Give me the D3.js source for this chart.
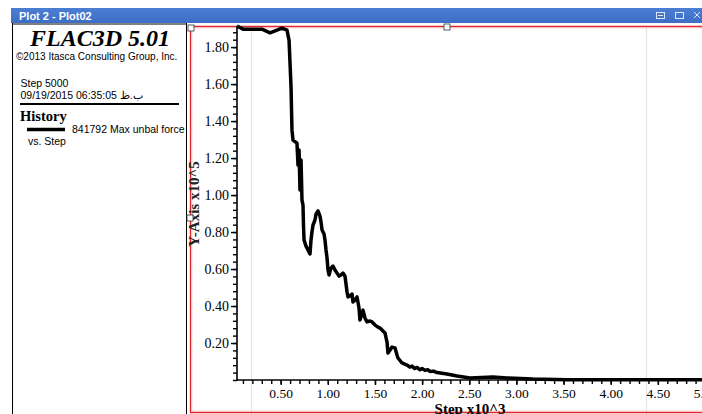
<!DOCTYPE html>
<html>
<head>
<meta charset="utf-8">
<script src="https://cdn.jsdelivr.net/npm/d3@7"></script>
<style>
    body { margin: 0; background: #fff; overflow: hidden; }
    svg { display: block; }
</style>
</head>
<body>
<svg id="chart" width="702" height="414"></svg>
<script>
// history 841792: max unbalanced force vs step (step in thousands, force in 1e5)
const stepK = [0.037, 0.101, 0.302, 0.387, 0.461, 0.514, 0.567, 0.589, 0.610, 0.620, 0.631, 0.673, 0.684, 0.695,
    0.705, 0.716, 0.726, 0.737, 0.742, 0.748, 0.769, 0.790, 0.811, 0.822, 0.832, 0.843, 0.864, 0.875, 0.896,
    0.917, 0.928, 0.939, 0.960, 0.970, 0.981, 0.992, 1.002, 1.013, 1.034, 1.055, 1.076, 1.098, 1.119, 1.140,
    1.161, 1.182, 1.204, 1.214, 1.235, 1.257, 1.267, 1.288, 1.310, 1.331, 1.341, 1.362, 1.373, 1.394, 1.416,
    1.447, 1.469, 1.501, 1.532, 1.554, 1.585, 1.607, 1.628, 1.638, 1.660, 1.681, 1.713, 1.734, 1.744, 1.787,
    1.840, 1.870, 1.893, 1.920, 1.946, 1.978, 2.000, 2.031, 2.060, 2.084, 2.120, 2.158, 2.264, 2.370, 2.508,
    2.752, 2.900, 3.176, 3.537, 3.887, 4.417, 4.968];
const unbalForce = [1.914, 1.897, 1.897, 1.877, 1.892, 1.903, 1.892, 1.838, 1.584, 1.351, 1.297, 1.281, 1.162, 1.243,
    1.027, 1.189, 0.973, 0.946, 0.838, 0.757, 0.724, 0.703, 0.681, 0.757, 0.800, 0.838, 0.865, 0.897, 0.914,
    0.886, 0.854, 0.811, 0.789, 0.757, 0.703, 0.659, 0.595, 0.568, 0.605, 0.616, 0.595, 0.578, 0.562, 0.568,
    0.578, 0.562, 0.476, 0.449, 0.454, 0.465, 0.422, 0.432, 0.449, 0.389, 0.324, 0.357, 0.378, 0.335, 0.314,
    0.319, 0.314, 0.297, 0.286, 0.281, 0.265, 0.254, 0.205, 0.146, 0.162, 0.178, 0.173, 0.135, 0.119, 0.092,
    0.081, 0.070, 0.075, 0.062, 0.068, 0.055, 0.062, 0.052, 0.056, 0.046, 0.048, 0.040, 0.032, 0.022, 0.011,
    0.016, 0.011, 0.005, 0.002, 0.002, 0.002, 0.002];

const xTickVals = [0.5, 1.0, 1.5, 2.0, 2.5, 3.0, 3.5, 4.0, 4.5, 5.0];
const yTickVals = [0.2, 0.4, 0.6, 0.8, 1.0, 1.2, 1.4, 1.6, 1.8];

const serif = "'Liberation Serif', 'Times New Roman', serif";
const sans = "'Liberation Sans', Arial, sans-serif";

const svg = d3.select("#chart");
svg.append("rect").attr("width", 702).attr("height", 414).attr("fill", "#fff");

// window title bar
const grad = svg.append("defs").append("linearGradient")
    .attr("id", "bar").attr("x1", 0).attr("y1", 0).attr("x2", 0).attr("y2", 1);
grad.append("stop").attr("offset", "0%").attr("stop-color", "#4a7ed3");
grad.append("stop").attr("offset", "100%").attr("stop-color", "#3c6ec6");
svg.append("rect").attr("x", 11).attr("y", 8).attr("width", 691).attr("height", 15).attr("fill", "url(#bar)");
svg.append("text").attr("x", 19).attr("y", 20)
    .attr("font-family", sans).attr("font-size", "11px").attr("font-weight", "bold")
    .attr("fill", "#fff").text("Plot 2 - Plot02");
const icons = svg.append("g").attr("stroke", "#dfe8f7").attr("fill", "none").attr("stroke-width", 1);
icons.append("rect").attr("x", 656.5).attr("y", 12.5).attr("width", 8).attr("height", 6);
icons.append("line").attr("x1", 658).attr("x2", 663).attr("y1", 15.5).attr("y2", 15.5);
icons.append("rect").attr("x", 675.5).attr("y", 12.5).attr("width", 8).attr("height", 6);
icons.append("path").attr("d", "M694,12 L700,18 M700,12 L694,18");

// left info panel
svg.append("line").attr("x1", 12.5).attr("x2", 12.5).attr("y1", 23).attr("y2", 414).attr("stroke", "#000");
svg.append("line").attr("x1", 186.5).attr("x2", 186.5).attr("y1", 23).attr("y2", 414).attr("stroke", "#000");
svg.append("line").attr("x1", 12).attr("x2", 187).attr("y1", 24).attr("y2", 24).attr("stroke", "#000");

const info = svg.append("g").attr("font-family", sans).attr("font-size", "10.5px").attr("fill", "#000");
info.append("text").attr("x", 100).attr("y", 46).attr("text-anchor", "middle")
    .attr("font-family", serif).attr("font-size", "24px").attr("font-weight", "bold").attr("font-style", "italic")
    .text("FLAC3D 5.01");
info.append("text").attr("x", 16).attr("y", 60).attr("font-size", "10px")
    .text("©2013 Itasca Consulting Group, Inc.");
info.append("text").attr("x", 20.5).attr("y", 87).text("Step 5000");
info.append("text").attr("x", 20.5).attr("y", 99).text("09/19/2015 06:35:05 ب.ظ");
info.append("line").attr("x1", 20).attr("x2", 179).attr("y1", 104).attr("y2", 104)
    .attr("stroke", "#000").attr("stroke-width", 2);
info.append("text").attr("x", 20).attr("y", 121)
    .attr("font-family", serif).attr("font-size", "14.5px").attr("font-weight", "bold").text("History");
info.append("line").attr("x1", 27).attr("x2", 65).attr("y1", 129.5).attr("y2", 129.5)
    .attr("stroke", "#000").attr("stroke-width", 3.5);
info.append("text").attr("x", 72).attr("y", 133).text("841792 Max unbal force");
info.append("text").attr("x", 28).attr("y", 145).text("vs. Step");

// plot frame
svg.append("line").attr("x1", 251.5).attr("x2", 251.5).attr("y1", 27).attr("y2", 414).attr("stroke", "#e3e3e3");
svg.append("line").attr("x1", 646.5).attr("x2", 646.5).attr("y1", 27).attr("y2", 414).attr("stroke", "#e3e3e3");
svg.append("path").attr("d", "M702,26.5 H190.5 V412.5 H702")
    .attr("fill", "none").attr("stroke", "#e3262b").attr("stroke-width", 1.3);
svg.append("path").attr("d", "M702,27.8 H191.8 V411.2 H702")
    .attr("fill", "none").attr("stroke", "#f6b4b4").attr("stroke-width", 0.8);

const x = d3.scaleLinear().domain([0.037, 5.0]).range([237, 705]);
const y = d3.scaleLinear().domain([0, 1.914]).range([380, 26]);

// axes
const minorY = d3.range(0, 1.9, 0.04);
const minorX = d3.range(0.1, 5.05, 0.1);

const yAxisMinor = svg.append("g").attr("transform", "translate(237,0)")
    .call(d3.axisLeft(y).tickValues(minorY).tickSize(4).tickFormat(""));
const yAxis = svg.append("g").attr("transform", "translate(237,0)")
    .call(d3.axisLeft(y).tickValues(yTickVals).tickSize(6).tickPadding(2).tickFormat(d3.format(".2f")));
const xAxisMinor = svg.append("g").attr("transform", "translate(0,380)")
    .call(d3.axisBottom(x).tickValues(minorX).tickSize(4).tickFormat(""));
const xAxis = svg.append("g").attr("transform", "translate(0,380)")
    .call(d3.axisBottom(x).tickValues(xTickVals).tickSize(5).tickPadding(3).tickFormat(d3.format(".2f")));

[yAxisMinor, yAxis, xAxisMinor, xAxis].forEach((a) => {
    a.select(".domain").remove();
    a.selectAll("line").attr("stroke", "#000").attr("stroke-width", 1.4);
});
yAxis.selectAll("text").attr("font-family", serif).attr("font-size", "14px").attr("fill", "#000");
xAxis.selectAll("text").attr("font-family", serif).attr("font-size", "13.5px").attr("fill", "#000");

svg.append("line").attr("x1", 237).attr("x2", 237).attr("y1", 26).attr("y2", 381)
    .attr("stroke", "#000").attr("stroke-width", 1.6);
svg.append("line").attr("x1", 236).attr("x2", 702).attr("y1", 380).attr("y2", 380)
    .attr("stroke", "#000").attr("stroke-width", 1.6);

svg.append("text").attr("x", 470).attr("y", 414).attr("text-anchor", "middle")
    .attr("font-family", serif).attr("font-size", "15px").attr("font-weight", "bold")
    .text("Step x10^3");
svg.append("text").attr("transform", "translate(199,204) rotate(-90)").attr("text-anchor", "middle")
    .attr("font-family", serif).attr("font-size", "15px").attr("font-weight", "bold").attr("fill", "#222")
    .text("Y-Axis x10^5");

// history curve
const histData = stepK.map((s, i) => ({step: s, force: unbalForce[i]}));
svg.append("path")
    .datum(histData)
    .attr("fill", "none")
    .attr("stroke", "#000")
    .attr("stroke-width", 3.5)
    .attr("stroke-linejoin", "round")
    .attr("d", d3.line().x((d) => x(d.step)).y((d) => y(d.force)));

// selection handles
const handles = [[191, 28], [447, 27], [190, 218]];
svg.selectAll(".handle").data(handles).join("rect")
    .attr("class", "handle")
    .attr("x", (d) => d[0] - 3).attr("y", (d) => d[1] - 3)
    .attr("width", 6).attr("height", 6)
    .attr("fill", "#fff").attr("stroke", "#333").attr("stroke-width", 0.8);
</script>
</body>
</html>
